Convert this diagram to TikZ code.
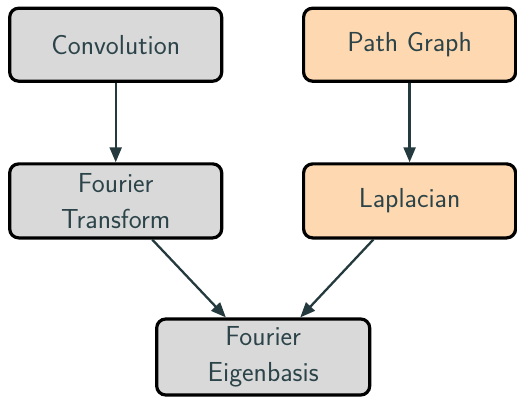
\documentclass[tikz,border=0pt]{standalone}
\usepackage{fontspec}
\usetikzlibrary{arrows.meta}
\definecolor{greyfill}{HTML}{D9D9D9}
\definecolor{peach}{HTML}{FDD8B0}
\definecolor{inkcol}{HTML}{2C4449}
\definecolor{arrowcol}{HTML}{243A3F}
\tikzset{
  box/.style={draw=black, line width=3.2pt, rounded corners=9pt, fill=greyfill,
    minimum width=212pt, minimum height=73pt, align=center, text=inkcol,
    inner sep=0pt, font=\sffamily\fontsize{27.5}{36.5}\selectfont},
  orangebox/.style={box, fill=peach},
  link/.style={draw=arrowcol, line width=2.3pt, -{Triangle[length=15pt,width=12pt]}}
}
\begin{document}
\begin{tikzpicture}[x=1pt,y=1pt]
\useasboundingbox (0,0) rectangle (517,397);
\node[box] (conv) at (115.7,352.3) {Convolution};
\node[orangebox] (path) at (409.6,352.3) {Path Graph};
\node[box, minimum height=74pt] (ft) at (115.7,196.1) {Fourier\\Transform};
\node[orangebox, minimum height=74pt] (lap) at (409.6,196.1) {Laplacian};
\node[box, minimum width=213pt, minimum height=76pt] (eig) at (263.2,40) {Fourier\\Eigenbasis};
\draw[link] (conv) -- (ft);
\draw[link] (path) -- (lap);
\draw[link] (ft) -- (eig);
\draw[link] (lap) -- (eig);
\end{tikzpicture}
\end{document}
